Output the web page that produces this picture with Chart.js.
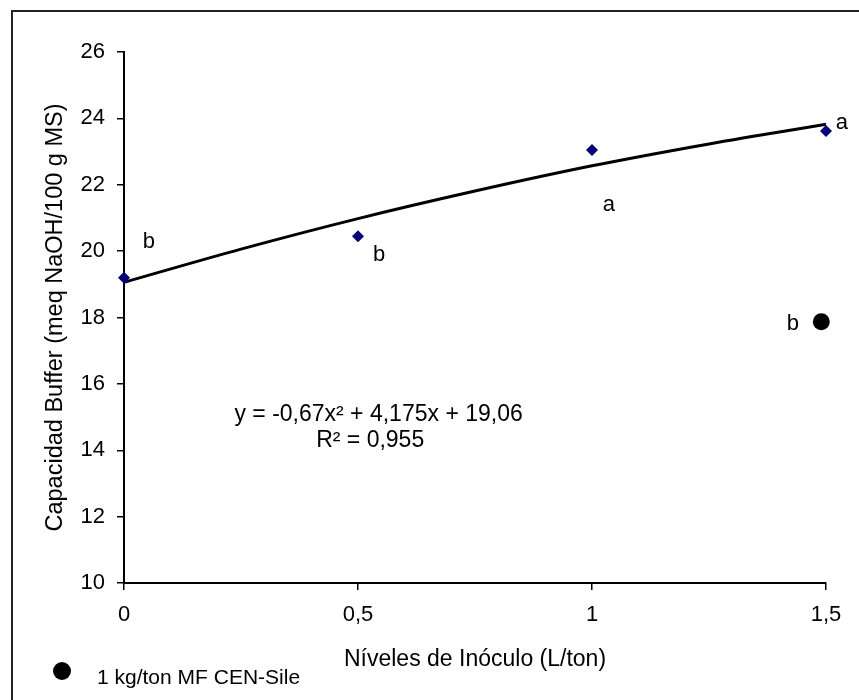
<!DOCTYPE html>
<html>
<head>
<meta charset="utf-8">
<title>Capacidad Buffer</title>
<script src="https://cdn.jsdelivr.net/npm/chart.js@4.4.1/dist/chart.umd.min.js"></script>
<style>
  html, body { margin: 0; padding: 0; background: #fff; }
  #wrap { width: 859px; height: 700px; }
</style>
</head>
<body>
<div id="wrap"><canvas id="bufferChart" width="859" height="700"></canvas></div>
<script>
// Inoculant levels (L/ton) and measured buffer capacity
const inocLevels = [0, 0.5, 1, 1.5];
const bufferValues = [19.2, 20.45, 23.05, 23.62];

// reference treatment: 1 kg/ton MF CEN-Sile
const cenSileX = [1.49];
const cenSileY = [17.87];

// trendline
const trendX = [0, 0.25, 0.5, 0.75, 1, 1.25, 1.5];
const trendY = [19.06, 20.06, 20.98, 21.81, 22.57, 23.23, 23.82];

// significance letters (x, y, text)
const letterX = [0.053, 0.545, 1.036, 1.534, 1.429];
const letterY = [20.28, 19.88, 21.39, 23.86, 17.8];
const letterText = ['b', 'b', 'a', 'a', 'b'];

// equation text
const eqLines = ['y = -0,67x² + 4,175x + 19,06', 'R² = 0,955'];
const eqX = [0.544, 0.526];
const eqY = [15.06, 14.28];

const xTickLabels = { 0: '0', 0.5: '0,5', 1: '1', 1.5: '1,5' };
const legendLabel = '1 kg/ton MF CEN-Sile';

const FONT = '"Liberation Sans", Arial, sans-serif';

function toPoints(xs, ys) {
    return xs.map((x, i) => ({ x: x, y: ys[i] }));
}

// white background + frame
const framePlugin = {
    id: 'frame',
    beforeDraw(chart) {
        const c = chart.ctx;
        c.save();
        c.fillStyle = '#fff';
        c.fillRect(0, 0, chart.width, chart.height);
        c.restore();
    },
    afterDraw(chart) {
        const c = chart.ctx;
        c.save();
        c.strokeStyle = '#222';
        c.lineWidth = 2;
        c.strokeRect(12, 11, 1000, 1000);

        // legend for the CEN-Sile point
        c.fillStyle = '#000';
        c.beginPath();
        c.arc(62, 671, 9, 0, Math.PI * 2);
        c.fill();
        c.font = '21px ' + FONT;
        c.textAlign = 'left';
        c.textBaseline = 'middle';
        c.fillText(legendLabel, 97, 678);
        c.restore();
    }
};

// letters and equation placed with the scales
const notesPlugin = {
    id: 'notes',
    afterDatasetsDraw(chart) {
        const c = chart.ctx;
        const xs = chart.scales.x, ys = chart.scales.y;
        c.save();
        c.fillStyle = '#000';
        c.textAlign = 'center';
        c.textBaseline = 'middle';
        c.font = '22px ' + FONT;
        letterText.forEach((t, i) => {
            c.fillText(t, xs.getPixelForValue(letterX[i]), ys.getPixelForValue(letterY[i]));
        });
        c.font = '23px ' + FONT;
        eqLines.forEach((t, i) => {
            c.fillText(t, xs.getPixelForValue(eqX[i]), ys.getPixelForValue(eqY[i]));
        });
        c.restore();
    }
};

const ctx = document.getElementById('bufferChart').getContext('2d');
const bufferChart = new Chart(ctx, {
    type: 'scatter',
    data: {
        datasets: [{
            label: 'Inóculo',
            data: toPoints(inocLevels, bufferValues),
            pointStyle: 'rectRot',
            pointRadius: 6,
            pointBackgroundColor: '#000080',
            pointBorderColor: '#000080',
            pointBorderWidth: 0,
            showLine: false,
            clip: false
        }, {
            label: legendLabel,
            data: toPoints(cenSileX, cenSileY),
            pointStyle: 'circle',
            pointRadius: 8.5,
            pointBackgroundColor: '#000',
            pointBorderColor: '#000',
            pointBorderWidth: 0,
            showLine: false,
            clip: false
        }, {
            label: 'Tendencia',
            data: toPoints(trendX, trendY),
            showLine: true,
            borderColor: '#000',
            borderWidth: 3,
            pointRadius: 0,
            cubicInterpolationMode: 'monotone',
            clip: false
        }]
    },
    options: {
        responsive: false,
        animation: false,
        devicePixelRatio: 1,
        layout: { padding: { left: 0, top: 52, right: 33, bottom: 0 } },
        plugins: {
            legend: { display: false },
            tooltip: { enabled: false }
        },
        scales: {
            x: {
                type: 'linear',
                min: 0,
                max: 1.5,
                afterFit(scale) { scale.height = 117; },
                afterBuildTicks(scale) {
                    scale.ticks = Object.keys(xTickLabels).map(v => ({ value: Number(v) }));
                },
                ticks: {
                    color: '#000',
                    font: { family: FONT, size: 22 },
                    padding: 12,
                    maxRotation: 0,
                    callback: v => xTickLabels[v]
                },
                grid: { drawOnChartArea: false, drawTicks: true, tickLength: 7, color: '#000', lineWidth: 1.5 },
                border: { display: true, color: '#000', width: 2 },
                title: {
                    display: true,
                    text: 'Níveles de Inóculo (L/ton)',
                    color: '#000',
                    font: { family: FONT, size: 23 },
                    padding: { top: 0, bottom: 27 }
                }
            },
            y: {
                type: 'linear',
                min: 10,
                max: 26,
                afterFit(scale) { scale.width = 124; },
                ticks: {
                    stepSize: 2,
                    color: '#000',
                    font: { family: FONT, size: 22 },
                    padding: 12
                },
                grid: { drawOnChartArea: false, drawTicks: true, tickLength: 7, color: '#000', lineWidth: 1.5 },
                border: { display: true, color: '#000', width: 2 },
                title: {
                    display: true,
                    text: 'Capacidad Buffer (meq NaOH/100 g MS)',
                    color: '#000',
                    font: { family: FONT, size: 23.5 },
                    padding: { top: 41, bottom: 0 }
                }
            }
        }
    },
    plugins: [framePlugin, notesPlugin]
});
</script>
</body>
</html>
